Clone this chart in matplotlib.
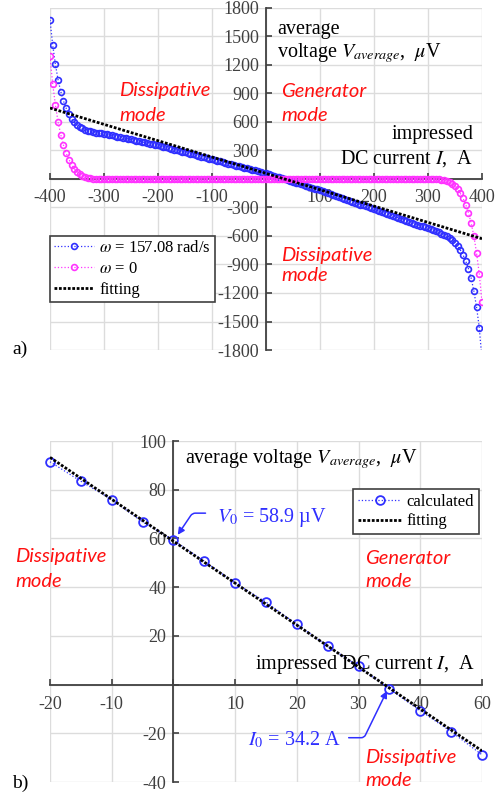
import numpy as np
import matplotlib.pyplot as plt
from matplotlib.lines import Line2D

plt.rcParams['font.family'] = ['Liberation Serif', 'DejaVu Serif']
plt.rcParams['mathtext.fontset'] = 'stix'

# ---- panel a: V_average vs impressed DC current ----
current_a = np.arange(-400, 401, 5)

v_omega = [1674, 1410, 1207, 1042, 919, 821, 744, 681, 628, 595,
           568, 547, 532, 520, 510, 502, 495, 489, 484, 479, 475,
           469, 463, 458, 452, 446, 440, 434, 428, 422, 416,
           410, 404, 398, 392, 386, 379, 373, 367, 360, 354,
           347, 340, 332, 325, 318, 310, 303, 295, 288, 280,
           273, 266, 258, 251, 243, 236, 229, 221, 214, 206,
           199, 192, 185, 177, 170, 163, 156, 149, 142, 134,
           127, 120, 113, 106, 99,
           91.5, 83.5, 76, 66.8, 59.3, 50.7, 41.7, 33.9, 24.7, 15.8,
           7.5, -1.8, -10.7, -19.3, -28.8,
           -37.5, -46.5, -55.5, -64.5, -73.5, -83, -92, -101, -110, -119,
           -129, -139, -149, -159, -169, -179, -189, -199, -209, -219,
           -229, -239, -249, -259, -269, -279, -289, -299, -310, -320,
           -330, -340, -350, -360, -370, -380, -390, -400, -410, -420,
           -430, -440, -450, -460, -470, -480, -490, -500, -510, -520,
           -530, -540, -551, -562, -574, -587, -601, -617,
           -640, -670, -705, -748, -800, -865, -945, -1045, -1180, -1350,
           -1565, -1900]

v_zero = [1290, 1000, 780, 600, 465, 355, 270, 205, 152, 110,
          78, 54, 36, 23, 14, 8, 5, 3, 2, 1,
          0, 0, 0, 0, 0, 0, 0, 0, 0, 0, 0, 0, 0, 0, 0, 0, 0, 0, 0, 0,
          0, 0, 0, 0, 0, 0, 0, 0, 0, 0, 0, 0, 0, 0, 0, 0, 0, 0, 0, 0,
          0, 0, 0, 0, 0, 0, 0, 0, 0, 0, 0, 0, 0, 0, 0, 0, 0, 0, 0, 0,
          0, 0, 0, 0, 0, 0, 0, 0, 0, 0, 0, 0, 0, 0, 0, 0, 0, 0, 0, 0,
          0, 0, 0, 0, 0, 0, 0, 0, 0, 0, 0, 0, 0, 0, 0, 0, 0, 0, 0, 0,
          0, 0, 0, 0, 0, 0, 0, 0, 0, 0, 0, 0, 0, 0, 0, 0, 0, 0, 0, 0,
          0,
          -1, -2, -3, -5, -8, -14, -23, -36, -54, -78,
          -110, -152, -205, -270, -355, -465, -600, -780, -1000, -1290]

fit_i_a = [-400, 400]
fit_v_a = [747, -629]

xt_a = [-400, -300, -200, -100, 0, 100, 200, 300, 400]
xl_a = ['-400', '-300', '-200', '-100', '', '100', '200', '300', '400']
yt_a = [-1800, -1500, -1200, -900, -600, -300, 0, 300, 600, 900, 1200, 1500, 1800]
yl_a = ['-1800', '-1500', '-1200', '-900', '-600', '-300', '', '300', '600', '900', '1200', '1500', '1800']

# ---- panel b: zoom near the origin ----
current_b = [-20, -15, -10, -5, 0, 5, 10, 15, 20, 25, 30, 35, 40, 45, 50]
v_calc = [91.5, 83.5, 76, 66.8, 59.3, 50.7, 41.7, 33.9, 24.7, 15.8, 7.5, -1.8, -10.7, -19.3, -28.8]
fit_i_b = [-20, 50]
fit_v_b = [93.3, -27.2]

xt_b = [-20, -10, 0, 10, 20, 30, 40, 50]
xl_b = ['-20', '-10', '', '10', '20', '30', '40', '60']
yt_b = [-40, -20, 0, 20, 40, 60, 80, 100]
yl_b = ['-40', '-20', '', '20', '40', '60', '80', '100']

BLUE = '#2f2fff'
MAG = '#ff33ff'
RED = '#ff1010'
GREY = '#404040'
fit_ls = (0, (1, 0.6))


def style_axes(ax, xpad, ypad):
    for s in ['top', 'right']:
        ax.spines[s].set_visible(False)
    for s in ['left', 'bottom']:
        ax.spines[s].set_position(('data', 0))
        ax.spines[s].set_color(GREY)
        ax.spines[s].set_linewidth(1.3)
        ax.spines[s].set_zorder(2.5)
    ax.grid(True, color='#dcdcdc', lw=1)
    ax.set_axisbelow(True)
    ax.tick_params(direction='in', length=4, width=1.2, color=GREY,
                   labelcolor=GREY, labelsize=13)
    ax.tick_params(axis='x', pad=xpad)
    ax.tick_params(axis='y', pad=ypad)


def red_text(ax, x, y, s):
    ax.text(x, y, s, color=RED, fontsize=14.5, family='Lato', style='italic',
            linespacing=1.15, va='baseline')


fig = plt.figure(figsize=(5.03, 7.98), dpi=100)

# ---------------- a) ----------------
ax1 = fig.add_axes([0.0994, 0.5614, 0.8588, 0.4286])
ax1.set_xlim(-400, 400)
ax1.set_ylim(-1800, 1800)
ax1.set_xticks(xt_a, xl_a)
ax1.set_yticks(yt_a, yl_a)
style_axes(ax1, 7, 5)

ax1.plot(current_a, v_omega, ls=':', lw=0.9, color=BLUE, marker='o', ms=4.2,
         mfc='none', mec=BLUE, mew=1.2, zorder=3)
ax1.plot(current_a, v_zero, ls=':', lw=0.9, color=MAG, marker='o', ms=4.2,
         mfc='none', mec=MAG, mew=1.2, zorder=3)
ax1.plot(fit_i_a, fit_v_a, ls=fit_ls, lw=2, color='black', zorder=4)

ax1.text(21, 1526, 'average', fontsize=14.5, color='black')
ax1.text(21, 1284, r'voltage $V_{average}$,  $\mu$V', fontsize=14.5, color='black')
ax1.text(384, 421, 'impressed', fontsize=14.5, ha='right')
ax1.text(384, 158, r'DC current $I$,  A', fontsize=14.5, ha='right')

red_text(ax1, -272, 874, 'Dissipative')
red_text(ax1, -272, 610, 'mode')
red_text(ax1, 28, 865, 'Generator')
red_text(ax1, 28, 610, 'mode')
red_text(ax1, 28, -863, 'Dissipative')
red_text(ax1, 28, -1074, 'mode')

h_a = [Line2D([], [], ls=':', lw=0.9, color=BLUE, marker='o', ms=4.2, mfc='none', mew=1.2),
       Line2D([], [], ls=':', lw=0.9, color=MAG, marker='o', ms=4.2, mfc='none', mew=1.2),
       Line2D([], [], ls=fit_ls, lw=2, color='black')]
leg = ax1.legend(h_a, [r'$\omega$ = 157.08 rad/s', r'$\omega$ = 0', 'fitting'],
                 loc='upper left', bbox_to_anchor=(0.0, 0.333), borderaxespad=0,
                 fontsize=12, handlelength=2.4, handletextpad=0.3, labelspacing=0.3,
                 borderpad=0.25, fancybox=False, framealpha=1, edgecolor=GREY)
leg.get_frame().set_linewidth(1.2)

fig.text(0.024, 0.557, 'a)', fontsize=14)

# ---------------- b) ----------------
ax2 = fig.add_axes([0.0994, 0.0200, 0.8588, 0.4273])
ax2.set_xlim(-20, 50)
ax2.set_ylim(-40, 100)
ax2.set_xticks(xt_b, xl_b)
ax2.set_yticks(yt_b, yl_b)
style_axes(ax2, 8, 5)

ax2.plot(current_b, v_calc, ls=':', lw=0.9, color=BLUE, marker='o', ms=6.3,
         mfc='none', mec=BLUE, mew=1.3, zorder=3, clip_on=False)
ax2.plot(fit_i_b, fit_v_b, ls=fit_ls, lw=2, color='black', zorder=4)

ax2.text(1.8, 91, r'average voltage $V_{average}$,  $\mu$V', fontsize=14.5)
ax2.text(48.8, 6.5, r'impressed DC current $I$,  A', fontsize=14.5, ha='right')

ax2.text(7.1, 66.8, r'$V_0$ = 58.9 µV', fontsize=14.5, color=BLUE)
ax2.annotate('', xy=(0.7, 61.5), xytext=(5.2, 70.4),
             arrowprops=dict(arrowstyle='-|>', color=BLUE, lw=1.1, mutation_scale=10,
                             connectionstyle='angle,angleA=0,angleB=56,rad=3',
                             shrinkA=0, shrinkB=0))
ax2.text(27.1, -25, r'$I_0$ = 34.2 A', fontsize=14.5, color=BLUE, ha='right')
ax2.annotate('', xy=(34.6, -2.6), xytext=(28.4, -21.8),
             arrowprops=dict(arrowstyle='-|>', color=BLUE, lw=1.1, mutation_scale=10,
                             connectionstyle='angle,angleA=0,angleB=64,rad=3',
                             shrinkA=0, shrinkB=0))

red_text(ax2, -25.6, 50.3, 'Dissipative')
red_text(ax2, -25.6, 40, 'mode')
red_text(ax2, 31.1, 49.7, 'Generator')
red_text(ax2, 31.1, 40, 'mode')
red_text(ax2, 31.1, -32, 'Dissipative')
red_text(ax2, 31.1, -41.6, 'mode')

h_b = [Line2D([], [], ls=':', lw=0.9, color=BLUE, marker='o', ms=6.3, mfc='none', mew=1.3),
       Line2D([], [], ls=fit_ls, lw=2, color='black')]
leg2 = ax2.legend(h_b, ['calculated', 'fitting'],
                  loc='upper right', bbox_to_anchor=(0.993, 0.859), borderaxespad=0,
                  fontsize=12, handlelength=2.6, handletextpad=0.3, labelspacing=0.2,
                  borderpad=0.3, fancybox=False, framealpha=1, edgecolor=GREY)
leg2.get_frame().set_linewidth(1.2)

fig.text(0.024, 0.0125, 'b)', fontsize=14)

fig.savefig('out.png', dpi=100)
